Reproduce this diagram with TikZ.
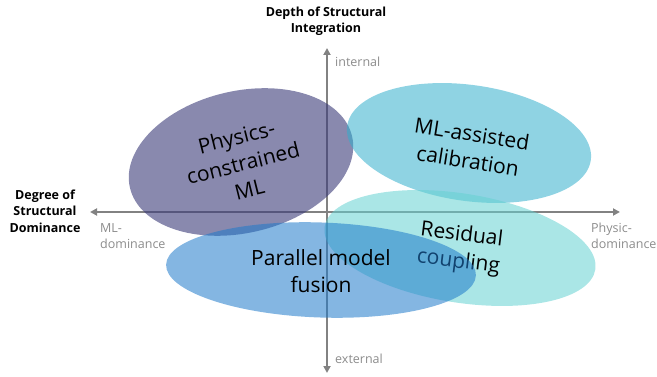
\documentclass[tikz,border=0pt]{standalone}
\usepackage{fontspec}
\setmainfont{Open Sans}
\usetikzlibrary{shapes.geometric,arrows.meta}
\definecolor{lila}{HTML}{3A3A78}
\definecolor{celeste}{HTML}{33AFCC}
\definecolor{turquesa}{HTML}{65D1D1}
\definecolor{azul}{HTML}{1F7ACA}
\definecolor{gris}{HTML}{828282}
\definecolor{grisclaro}{HTML}{8C8C8C}

\tikzset{
  eje/.style={draw=gris,line width=2.2pt,{Triangle[length=7pt,width=7pt]}-{Triangle[length=7pt,width=7pt]}},
  mancha/.style={ellipse,draw=none,inner sep=0pt,fill opacity=0.55},
  rotulo/.style={align=center,font=\fontsize{21}{27}\selectfont},
  titulo/.style={align=center,font=\bfseries\fontsize{12.5}{16.5}\selectfont},
  extremo/.style={text=grisclaro,align=left,font=\fontsize{12.5}{16.5}\selectfont,inner sep=0pt}
}

\begin{document}
\begin{tikzpicture}[x=1pt,y=-1pt]
\useasboundingbox (0,0) rectangle (657,377);

% ejes
\coordinate (izq) at (90,212);
\coordinate (der) at (620,212);
\coordinate (arr) at (327,48);
\coordinate (aba) at (327,373);
\draw[eje] (izq) -- (der);
\draw[eje] (aba) -- (arr);

\node[titulo] (prof) at (326,21) {Depth of Structural\\Integration};
\node[titulo] (grado) at (45,211) {Degree of\\Structural\\Dominance};
\node[extremo,anchor=west] (interno) at (335,62) {internal};
\node[extremo,anchor=west] (externo) at (335,359) {external};
\node[extremo,anchor=west] (mldom) at (100,236) {ML-\\dominance};
\node[extremo,anchor=west] (phdom) at (591,236) {Physic-\\dominance};

% las cuatro familias
\node[mancha,fill=lila,fill opacity=0.6,minimum width=228,minimum height=142,rotate=13] (pcmlE) at (241,162) {};
\node[rotulo,rotate=14] (pcml) at (243,163) {Physics-\\constrained\\ML};

\node[mancha,fill=celeste,minimum width=246,minimum height=116,rotate=-8] (mlcalE) at (469,143) {};
\node[rotulo,rotate=-9] (mlcal) at (470,147) {ML-assisted\\calibration};

\node[mancha,fill=turquesa,minimum width=274,minimum height=109,rotate=-9] (rescpE) at (460,248) {};
\node[rotulo,rotate=-7] (rescp) at (460,249) {Residual\\coupling};

\node[mancha,fill=azul,minimum width=310,minimum height=95,rotate=-2] (pfusE) at (321,270) {};
\node[rotulo] (pfus) at (321,271) {Parallel model\\fusion};
\end{tikzpicture}
\end{document}
